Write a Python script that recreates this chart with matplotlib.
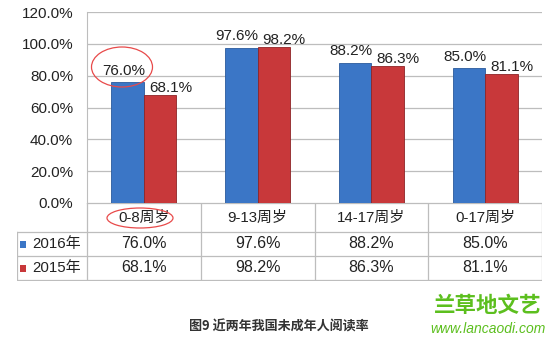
import matplotlib.pyplot as plt
from matplotlib.patches import Ellipse, Rectangle
import numpy as np

plt.rcParams['font.family'] = ['Liberation Sans', 'Noto Sans CJK SC', 'DejaVu Sans']

# data
categories = ["0-8周岁", "9-13周岁", "14-17周岁", "0-17周岁"]
series_names = ["2016年", "2015年"]
rate_2016 = [76.0, 97.6, 88.2, 85.0]
rate_2015 = [68.1, 98.2, 86.3, 81.1]
y_ticks = [0, 20, 40, 60, 80, 100, 120]

blue = '#3b76c6'
red = '#c8383a'
grid_c = '#bdbdbd'

W, H = 554, 343
fig = plt.figure(figsize=(W / 100, H / 100), dpi=100)


def px_axes(x0, y0, x1, y1):
    # axes placed by pixel box (top-left origin)
    return fig.add_axes([x0 / W, 1 - y1 / H, (x1 - x0) / W, (y1 - y0) / H])


# -- bar chart
ax = px_axes(87, 12, 542, 203)
x = np.arange(len(categories))
bw = 0.285
b1 = ax.bar(x - bw / 2, rate_2016, bw, color=blue, edgecolor='#2a5a9c', linewidth=0.6, zorder=3)
b2 = ax.bar(x + bw / 2, rate_2015, bw, color=red, edgecolor='#8e2426', linewidth=0.6, zorder=3)
ax.set_xlim(-0.5, len(categories) - 0.5)
ax.set_ylim(0, 120)
ax.set_yticks(y_ticks)
ax.set_yticklabels([f"{v:.1f}%" for v in y_ticks], fontsize=11, color='#222222')
ax.set_xticks([])
ax.tick_params(axis='y', length=0, pad=10)
ax.grid(axis='y', color=grid_c, linewidth=0.9, zorder=0)
for s in ['top', 'right', 'bottom']:
    ax.spines[s].set_visible(False)
ax.spines['left'].set_color(grid_c)

for r, v in zip(b1, rate_2016):
    ax.annotate(f"{v:.1f}%", (r.get_x() + r.get_width() / 2, v), xytext=(-3, 3),
                textcoords='offset points', ha='center', va='bottom', fontsize=11, color='#222222')
for r, v in zip(b2, rate_2015):
    ax.annotate(f"{v:.1f}%", (r.get_x() + r.get_width() / 2, v), xytext=(7.5, 0),
                textcoords='offset points', ha='center', va='bottom', fontsize=11, color='#222222')

# -- data table underneath
tx = px_axes(17, 203, 542, 281)
leg_w = 70 / 113.75
tx.set_xlim(-0.5 - leg_w, len(categories) - 0.5)
tx.set_ylim(281, 203)
tx.axis('off')
lc = dict(color=grid_c, linewidth=0.9)
# header row
tx.plot([-0.5, len(categories) - 0.5], [203, 203], **lc)
for k in range(len(categories) + 1):
    tx.plot([k - 0.5, k - 0.5], [203, 280], **lc)
for k, c in enumerate(categories):
    tx.text(k, 218, c, ha='center', va='center', fontsize=10.8, color='#222222')
# value rows
for yl in [232, 256, 280]:
    tx.plot([-0.5 - leg_w, len(categories) - 0.5], [yl, yl], **lc)
tx.plot([-0.5 - leg_w, -0.5 - leg_w], [232, 280], **lc)
rows = [(232, 256, rate_2016, blue), (256, 280, rate_2015, red)]
for (ya, yb, vals, col), name in zip(rows, series_names):
    yc = (ya + yb) / 2
    tx.add_patch(Rectangle((-0.5 - leg_w + 3 / 113.75, yc + 3.5), 6 / 113.75, -7,
                           facecolor=col, edgecolor='none'))
    tx.text(-0.5 - leg_w + 15 / 113.75, yc, name, ha='left', va='center', fontsize=10.8, color='#222222')
    for k, v in enumerate(vals):
        tx.text(k, yc, f"{v:.1f}%", ha='center', va='center', fontsize=11.5, color='#222222')

# -- overlay: red circles, caption, watermark
ov = px_axes(0, 0, W, H)
ov.set_xlim(0, W)
ov.set_ylim(H, 0)
ov.axis('off')
ov.add_patch(Ellipse((122, 67), 61, 40, fill=False, edgecolor='#e84a4a', linewidth=0.9))
ov.add_patch(Ellipse((140, 218), 66, 20, fill=False, edgecolor='#e84a4a', linewidth=0.9))
ov.text(189, 327, "图9 近两年我国未成年人阅读率", ha='left', va='center', fontsize=9.4,
        fontweight='bold', color='#333333', family=['Noto Sans CJK SC'])
ov.text(488, 305, "兰草地文艺", ha='center', va='center', fontsize=15.5, fontweight='bold',
        color='#5cbf1e', family=['Noto Sans CJK SC'])
ov.text(488, 329, "www.lancaodi.com", ha='center', va='center', fontsize=10, style='italic',
        color='#5cbf1e')

fig.savefig('out.png', dpi=100)
